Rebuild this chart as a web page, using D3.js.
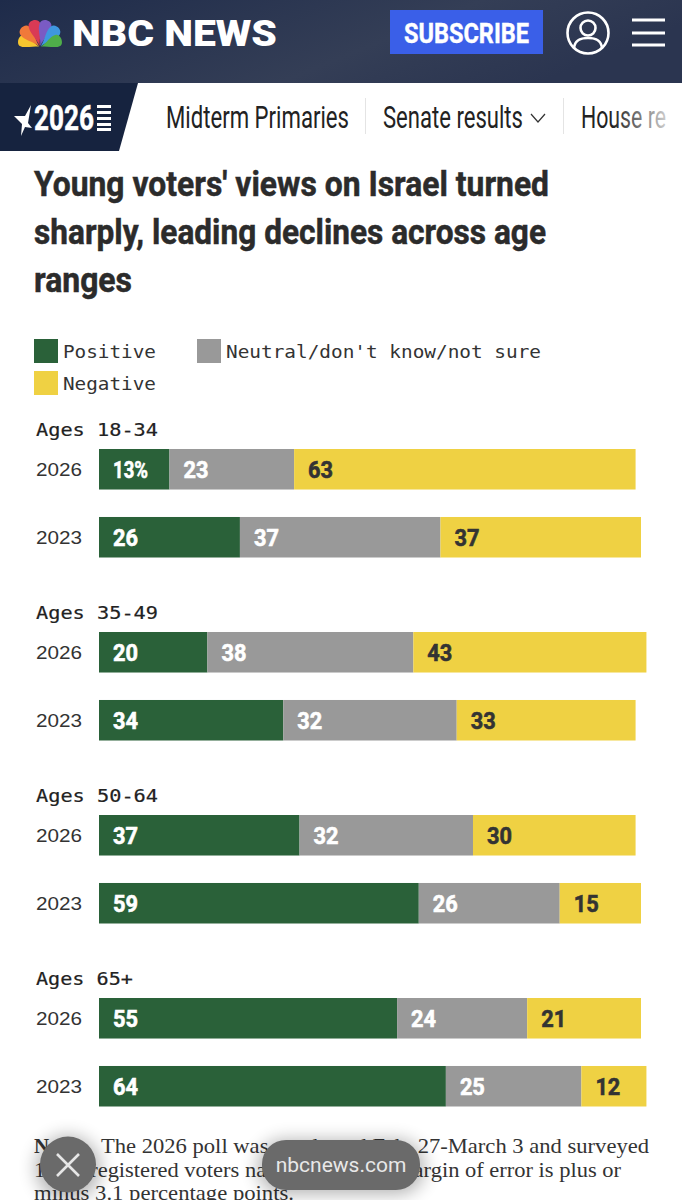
<!DOCTYPE html>
<html><head><meta charset="utf-8">
<script src="https://cdn.jsdelivr.net/npm/d3@7"></script>
<style>html,body{margin:0;padding:0;background:#fff}svg{display:block}text{white-space:pre}</style>
</head><body><div id="c"></div>
<script>
const ages=["Ages 18-34","Ages 35-49","Ages 50-64","Ages 65+"];
const years=["2026","2023"];
const seriesNames=["Positive","Neutral/don't know/not sure","Negative"];
const seriesColors=["#2a6139","#999999","#efd143"];
const labelColors=["#ffffff","#ffffff","#333333"];
const positive=[13,26,20,34,37,59,55,64];
const neutral=[23,37,38,32,32,26,24,25];
const negative=[63,37,43,33,30,15,21,12];
const titleLines=["Young voters' views on Israel turned","sharply, leading declines across age","ranges"];
const noteLines=["The 2026 poll was conducted Feb. 27-March 3 and surveyed","1,000 registered voters nationwide. The margin of error is plus or","minus 3.1 percentage points."];
const feathers=["#f7c62f","#f0793a","#d93a55","#7a5bc4","#3f97e0","#4fae4a"];
const featherAngles=[-70,-43,-14,14,43,70];
const featherLengths=[24,28,29,29,28,24];

const svg=d3.select("#c").append("svg").attr("width",682).attr("height",1200).attr("viewBox","0 0 682 1200");
const defs=svg.append("defs");
const hg=defs.append("linearGradient").attr("id","hg").attr("x1","0").attr("x2","1").attr("y1","0").attr("y2","0.3");
hg.append("stop").attr("offset","0").attr("stop-color","#1e2b4a");
hg.append("stop").attr("offset","0.65").attr("stop-color","#343e56");
hg.append("stop").attr("offset","1").attr("stop-color","#2b3550");
const fade=defs.append("linearGradient").attr("id","fade");
fade.append("stop").attr("offset","0").attr("stop-color","#fff").attr("stop-opacity","0");
fade.append("stop").attr("offset","1").attr("stop-color","#fff").attr("stop-opacity","1");
const blur=defs.append("filter").attr("id","sh").attr("x","-40%").attr("y","-60%").attr("width","180%").attr("height","220%");
blur.append("feGaussianBlur").attr("stdDeviation","9");
defs.append("clipPath").attr("id","pkclip").append("rect").attr("x",10).attr("y",10).attr("width",60).attr("height",37);

function txt(g,s,x,y,size,opt={}){
  const t=g.append("text").attr("x",x).attr("y",y).attr("font-size",size)
   .attr("font-family",opt.family||"Roboto").attr("font-weight",opt.weight||400).attr("fill",opt.fill||"#2b2b2b").text(s);
  if(opt.len){t.attr("textLength",opt.len).attr("lengthAdjust","spacingAndGlyphs");}
  if(opt.anchor)t.attr("text-anchor",opt.anchor);
  if(opt.stroke){t.attr("stroke",opt.fill||"#2b2b2b").attr("stroke-width",opt.stroke);}
  return t;
}
const NARROW="'Liberation Sans Narrow',Roboto";
const MONO="'DejaVu Sans Mono','Liberation Mono',monospace";

// header
const head=svg.append("g");
head.append("rect").attr("width",682).attr("height",83).attr("fill","url(#hg)");
const pk=head.append("g").attr("clip-path","url(#pkclip)").append("g").attr("transform","translate(40,47)");
feathers.forEach((c,i)=>{
  const L=featherLengths[i];
  pk.append("path").attr("transform",`rotate(${featherAngles[i]})`)
    .attr("d",`M0,-1 C-1.5,-${L*0.35} -7,-${L*0.55} -6,-${L*0.8} C-5,-${L} 5,-${L} 6,-${L*0.8} C7,-${L*0.55} 1.5,-${L*0.35} 0,-1Z`).attr("fill",c);
});
txt(head,"NBC NEWS",72,46,37,{weight:900,fill:"#fff",len:205,family:"Roboto"});
head.append("rect").attr("x",390).attr("y",10).attr("width",153).attr("height",44).attr("fill","#3a5fe8");
txt(head,"SUBSCRIBE",404,42.5,27,{weight:700,fill:"#fff",len:125,family:NARROW,stroke:.4});
const ui=head.append("g").attr("fill","none").attr("stroke","#fff").attr("stroke-width",2.6);
ui.append("circle").attr("cx",588).attr("cy",33).attr("r",20.5);
ui.append("circle").attr("cx",588).attr("cy",28).attr("r",7.5);
ui.append("path").attr("d","M574,48 C575,39 582,38 588,38 C594,38 601,39 602,48");
[20,33,45].forEach(y=>head.append("rect").attr("x",632).attr("y",y-1.5).attr("width",33).attr("height",3).attr("fill","#fff"));

// nav
const nav=svg.append("g");
nav.append("polygon").attr("points","0,83 138,83 119,151 0,151").attr("fill","#16233f");
nav.append("polygon").attr("points","14,116 25,116 31,105 28,123 32,128 25,127 21,136 22,124").attr("fill","#fff");
txt(nav,"2026",34,130,35,{weight:700,fill:"#fff",len:60,family:NARROW,stroke:.5});
[105,111,117,123,128].forEach(y=>nav.append("rect").attr("x",97).attr("y",y).attr("width",14).attr("height",3).attr("fill","#fff"));
txt(nav,"Midterm Primaries",166,128,31,{len:183,family:NARROW,fill:"#222"});
txt(nav,"Senate results",383,128,31,{len:140,family:NARROW,fill:"#222"});
nav.append("path").attr("d","M531,114 L538,122 L545,114").attr("fill","none").attr("stroke","#333").attr("stroke-width",1.2);
txt(nav,"House re",581,128,31,{len:85,family:NARROW,fill:"#222"});
[365,563].forEach(x=>nav.append("rect").attr("x",x).attr("y",98).attr("width",1).attr("height",36).attr("fill","#e4e4e4"));
nav.append("rect").attr("x",612).attr("y",95).attr("width",70).attr("height",45).attr("fill","url(#fade)");

// title
titleLines.forEach((s,i)=>{
  txt(svg,s,34,[196,244,292][i],35,{weight:700,family:NARROW,fill:"#2b2b2b",len:[515,512,98][i],stroke:.5});
});

// legend
const legendPos=[[34,339],[197,339],[34,371]];
const legendLen=[93,315,93];
seriesNames.forEach((s,i)=>{
  svg.append("rect").attr("x",legendPos[i][0]).attr("y",legendPos[i][1]).attr("width",24).attr("height",24).attr("fill",seriesColors[i]);
  txt(svg,s,legendPos[i][0]+29,legendPos[i][1]+19,17.5,{family:MONO,fill:"#333",len:legendLen[i]});
});

// chart
const x=d3.scaleLinear().domain([0,100]).range([99,641]);
const yGroup=d3.scaleBand().domain(ages).range([449,449+183*4]);
const yYear=d3.scaleBand().domain(years).range([0,108.5]).paddingInner(0.404);
const rows=[];
ages.forEach((a,i)=>years.forEach((yr,j)=>{
  const k=i*2+j;
  rows.push({age:a,year:yr,vals:[positive[k],neutral[k],negative[k]]});
}));
const ageW=[122,122,122,97];
const chart=svg.append("g");
ages.forEach((a,i)=>{
  txt(chart,a,36,yGroup(a)-13,17.5,{family:MONO,fill:"#222",len:ageW[i],stroke:.2});
});
rows.forEach((r,ri)=>{
  const y0=yGroup(r.age)+yYear(r.year), h=yYear.bandwidth();
  txt(chart,r.year,36,y0+h/2+6.5,18.5,{family:"'Liberation Sans',Roboto",fill:"#333",len:46});
  let acc=0;
  r.vals.forEach((v,i)=>{
    const a=x(acc), b=x(acc+v);
    chart.append("rect").attr("x",a).attr("y",y0).attr("width",b-a).attr("height",h).attr("fill",seriesColors[i]);
    const s=(ri===0&&i===0)?v+"%":""+v;
    txt(chart,s,a+14,y0+h/2+9,24,{weight:700,family:"Roboto",fill:labelColors[i],len:s.length===3?35:25,stroke:.6});
    acc+=v;
  });
});

// note
const note=svg.append("g");
const SERIF="'Liberation Serif',serif";
txt(note,"Note:",34,1153,21,{weight:700,family:SERIF,fill:"#333"});
txt(note,noteLines[0],101,1153,21,{family:SERIF,fill:"#333",len:548});
txt(note,noteLines[1],34,1177,21,{family:SERIF,fill:"#333",len:587});
txt(note,noteLines[2],34,1200,21,{family:SERIF,fill:"#333",len:260});

// overlay controls
const ov=svg.append("g");
ov.append("ellipse").attr("cx",68).attr("cy",1168).attr("rx",32).attr("ry",32).attr("fill","#000").attr("opacity",.3).attr("filter","url(#sh)");
ov.append("rect").attr("x",258).attr("y",1140).attr("width",166).attr("height",54).attr("rx",26).attr("fill","#000").attr("opacity",.3).attr("filter","url(#sh)");
ov.append("circle").attr("cx",68).attr("cy",1164.5).attr("r",28).attr("fill","#6a6a6a");
ov.append("path").attr("d","M57,1154 L79,1176 M79,1154 L57,1176").attr("stroke","#e6e6e6").attr("stroke-width",2.6);
ov.append("rect").attr("x",262).attr("y",1140).attr("width",158).attr("height",50).attr("rx",24).attr("fill","#6a6a6a");
txt(ov,"nbcnews.com",341,1172,21,{anchor:"middle",fill:"#e8e8e8",family:"Roboto"});
</script></body></html>
